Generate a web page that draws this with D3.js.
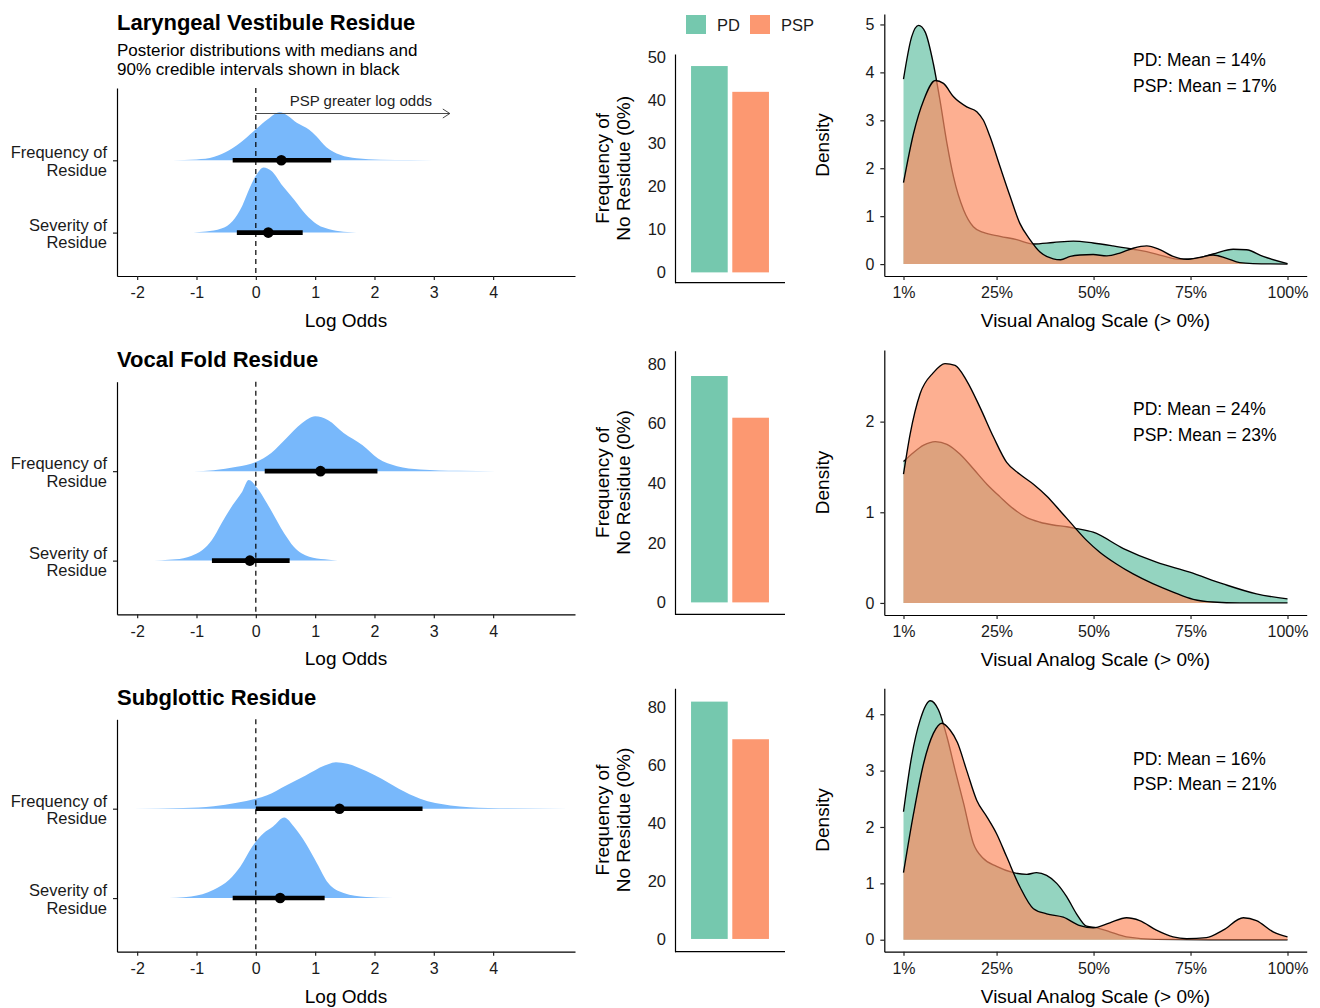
<!DOCTYPE html>
<html><head><meta charset="utf-8">
<script src="https://cdn.jsdelivr.net/npm/d3@7"></script>
<style>
body{margin:0;background:#fff}
svg{display:block}
text{font-family:"Liberation Sans",Arial,Helvetica,sans-serif}
</style>
</head><body>
<svg id="chart" width="1320" height="1008"></svg>
<script>
// ---------------- DATA ----------------
const panelTitles = ["Laryngeal Vestibule Residue", "Vocal Fold Residue", "Subglottic Residue"];
const subtitleLines = ["Posterior distributions with medians and", "90% credible intervals shown in black"];
const measureLines = [["Frequency of", "Residue"], ["Severity of", "Residue"]];
const arrowLabel = "PSP greater log odds";

// posterior medians and 90% credible intervals [frequency, severity]
const postMedian = [[0.43, 0.21], [1.09, -0.10], [1.41, 0.41]];
const postLower  = [[-0.39, -0.32], [0.15, -0.74], [0.00, -0.39]];
const postUpper  = [[1.27, 0.79], [2.05, 0.57], [2.81, 1.16]];

// posterior density shapes [log odds, relative density]
const lvFreqPost = [[-1.4,0],[-1.0,0.8],[-0.7,3.5],[-0.45,10],[-0.2,20.5],[0,31],[0.2,41],[0.4,48],[0.55,44],[0.69,37.5],[0.8,34],[0.9,30.5],[1.02,24],[1.19,13],[1.42,5.5],[1.7,2],[2.1,0.6],[2.6,0.2],[3.4,0]];
const lvSevPost  = [[-1.05,0],[-0.84,1],[-0.58,4],[-0.39,11.7],[-0.23,26.7],[-0.1,45],[0,56.7],[0.13,65],[0.26,61.7],[0.45,46.7],[0.64,33.3],[0.84,18.3],[1.03,8.3],[1.29,2.7],[1.54,0.7],[1.85,0]];
const vfFreqPost = [[-1.05,0],[-0.71,1],[-0.32,4.3],[0,9.3],[0.26,18.3],[0.51,32.7],[0.77,47.7],[1.0,55],[1.22,51],[1.48,38.3],[1.8,26],[2.06,12.7],[2.38,5],[2.77,1.7],[3.41,0.3],[4.05,0]];
const vfSevPost  = [[-1.83,0],[-1.35,1.3],[-1.09,4.7],[-0.9,10.7],[-0.74,20.7],[-0.58,37.3],[-0.39,55.7],[-0.23,69],[-0.12,80.7],[0.03,72.3],[0.19,57.3],[0.48,27.3],[0.64,14],[0.9,4],[1.16,1.3],[1.38,0]];
const sgFreqPost = [[-2.06,0],[-1.22,0.7],[-0.71,2.5],[-0.32,6],[0,10],[0.19,13.5],[0.51,23.3],[0.84,33.3],[1.16,43.3],[1.35,46.7],[1.54,45],[1.86,37.7],[2.12,30],[2.41,20],[2.77,10],[3.28,3.3],[3.92,0.7],[5.27,0]];
const sgSevPost  = [[-1.58,0],[-1.09,1.7],[-0.71,8.3],[-0.45,18.3],[-0.26,31.7],[-0.06,51.7],[0.13,65],[0.29,71.7],[0.48,80.7],[0.64,71.7],[0.84,55],[1.03,35],[1.22,15],[1.48,5],[1.86,1],[2.32,0]];

// frequency of no residue (0%)
const groups = ["PD", "PSP"];
const noResiduePD  = [48, 76, 82];
const noResiduePSP = [42, 62, 69];

// visual analog scale (>0%) means
const vasMeanPD  = [14, 24, 16];
const vasMeanPSP = [17, 23, 21];

// VAS density curves [percent, density]
const lvVasPD  = [[1,3.86],[3.1,4.74],[4.9,4.98],[6.6,4.84],[8.7,4.18],[10.4,3.42],[12.2,2.52],[13.9,1.82],[16.5,1.13],[19,0.78],[21.6,0.66],[25.9,0.58],[30.2,0.51],[34.5,0.42],[39.6,0.45],[44.8,0.48],[49.9,0.44],[55,0.38],[60.2,0.31],[63.7,0.26],[67.9,0.17],[72.2,0.10],[76.5,0.12],[80.8,0.21],[86,0.31],[89.4,0.30],[93.7,0.16],[100,0.01]];
const lvVasPSP = [[1,1.70],[3.6,2.73],[6.2,3.42],[9.2,3.83],[11.3,3.77],[13.9,3.49],[17.3,3.28],[19.9,3.18],[21.6,3.0],[23.3,2.66],[25.9,2.03],[28.5,1.41],[31,0.85],[33.6,0.51],[36.2,0.25],[39.6,0.11],[41.5,0.09],[44,0.16],[46.5,0.19],[49.9,0.20],[53.4,0.17],[56.8,0.23],[60.2,0.33],[63.7,0.38],[67.1,0.30],[70.5,0.16],[74,0.10],[77.4,0.14],[80.8,0.19],[84.3,0.12],[87.7,0.03],[91.1,0.01],[100,0]];
const vfVasPD  = [[1,1.56],[3.6,1.66],[6.2,1.74],[9.2,1.78],[12.2,1.75],[15.6,1.64],[19,1.48],[22.5,1.31],[25.9,1.17],[29.3,1.04],[32.8,0.94],[36.2,0.89],[39.6,0.86],[43.1,0.84],[45.6,0.82],[49.9,0.78],[57.7,0.60],[66.2,0.45],[74.8,0.34],[83.4,0.21],[92,0.10],[100,0.044]];
const vfVasPSP = [[1,1.42],[2.7,1.86],[5.3,2.31],[8.7,2.54],[11.7,2.64],[14.3,2.62],[17.3,2.45],[20.7,2.16],[24.2,1.83],[27.6,1.55],[31,1.42],[34.5,1.31],[37.9,1.18],[41.3,1.02],[44.8,0.85],[48.2,0.69],[51.6,0.56],[55.9,0.43],[60.2,0.32],[65.4,0.21],[70.5,0.12],[75.7,0.04],[80.8,0.01],[87.7,0],[100,0]];
const sgVasPD  = [[1,2.27],[3.1,3.25],[5.3,3.90],[7.9,4.24],[10,4.08],[12.2,3.60],[14.3,3.01],[16.5,2.42],[19,1.71],[21.6,1.44],[25,1.30],[29.3,1.19],[32.8,1.16],[35.3,1.19],[37.9,1.14],[40.5,1.0],[43.1,0.76],[45.6,0.46],[48.2,0.24],[50.8,0.21],[54.2,0.14],[58.5,0.05],[66.2,0.006],[80,0],[100,0]];
const sgVasPSP = [[1,1.19],[3.6,2.24],[6.2,3.13],[8.7,3.66],[10.9,3.84],[13,3.72],[14.9,3.5],[17.3,3.0],[19.9,2.47],[22.5,2.18],[25,1.88],[27.6,1.47],[31,0.94],[34.5,0.55],[37.9,0.46],[42.2,0.40],[46.5,0.25],[49.9,0.21],[54.2,0.30],[58.5,0.39],[61.9,0.34],[66.2,0.17],[70.5,0.05],[74,0.018],[79.1,0.036],[83.4,0.17],[88.6,0.39],[92,0.34],[96.3,0.14],[100,0.05]];

// tick values
const logOddsTicks = [-2, -1, 0, 1, 2, 3, 4];
const vasTicks = [1, 25, 50, 75, 100];
const barTicks = [[0,10,20,30,40,50],[0,20,40,60,80],[0,20,40,60,80]];
const densTicks = [[0,1,2,3,4,5],[0,1,2],[0,1,2,3,4]];

const freqPosts = [lvFreqPost, vfFreqPost, sgFreqPost];
const sevPosts  = [lvSevPost, vfSevPost, sgSevPost];
const vasPD  = [lvVasPD, vfVasPD, sgVasPD];
const vasPSP = [lvVasPSP, vfVasPSP, sgVasPSP];

// ---------------- LAYOUT / STYLE ----------------
const COL_SLAB = "#78b8fb";
const COL_PD = "#66C2A5", COL_PSP = "#FC8D62";
const TXT = "#1a1a1a";
const rows = [
  {top: 88,    bot: 276,   titleY: 30,  barTop: 54,    barBot: 282.7, barDom: [-2.4, 50.8], densTop: 14,    densBot: 276,   densDom: [-0.2485, 5.218], meanY: [66, 92]},
  {top: 381.7, bot: 614.3, titleY: 367, barTop: 350.7, barBot: 614.3, barDom: [-4.0, 84.5], densTop: 350,   densBot: 615,   densDom: [-0.133, 2.79],   meanY: [415, 441]},
  {top: 719.3, bot: 951.7, titleY: 705, barTop: 688.3, barBot: 951.7, barDom: [-4.4, 86.6], densTop: 688.3, densBot: 951.7, densDom: [-0.2125, 4.46],  meanY: [765, 790]}
];
const L = {x0: 117, x1: 575, dom: [-2.34, 5.38]};
const B = {x0: 675, x1: 785};
const D = {x0: 884.3, x1: 1306.7, dom: [-3.95, 104.95]};

const svg = d3.select("#chart");
svg.append("rect").attr("width", 1320).attr("height", 1008).attr("fill", "#fff");

function styleAxis(g, fs) {
  g.selectAll(".domain").attr("stroke", "#000").attr("stroke-width", 1.2);
  g.selectAll(".tick line").attr("stroke", "#222").attr("stroke-width", 1.2);
  g.selectAll(".tick text").attr("fill", TXT).attr("font-size", fs).attr("font-family", null);
}

rows.forEach((r, i) => {
  // ---------- left: posterior halfeye ----------
  const x = d3.scaleLinear().domain(L.dom).range([L.x0, L.x1]);
  const y = d3.scaleLinear().domain([0.4, 3.0]).range([r.bot, r.top]);
  const spacing = y(1) - y(2);
  const posts = [freqPosts[i], sevPosts[i]];
  const cats = [2, 1];
  const pmax = d3.max(posts.flat(), d => d[1]);
  const g = svg.append("g");

  svg.append("text").attr("x", L.x0).attr("y", r.titleY).attr("font-size", 22).attr("font-weight", "bold")
    .attr("fill", "#000").text(panelTitles[i]);
  if (i === 0) {
    subtitleLines.forEach((s, k) => svg.append("text").attr("x", L.x0).attr("y", 56 + k * 19)
      .attr("font-size", 17).attr("fill", "#000").text(s));
  }

  posts.forEach((p, k) => {
    const base = y(cats[k]);
    const area = d3.area().curve(d3.curveMonotoneX)
      .x(d => x(d[0])).y0(base).y1(d => base - d[1] / pmax * 0.9 * spacing);
    g.append("path").datum(p).attr("d", area).attr("fill", COL_SLAB);
  });

  // dashed zero line
  g.append("line").attr("x1", x(0)).attr("x2", x(0)).attr("y1", r.top).attr("y2", r.bot)
    .attr("stroke", "#000").attr("stroke-width", 1.2).attr("stroke-dasharray", "5,4");

  // intervals + medians
  [0, 1].forEach(k => {
    const yy = y(cats[k]);
    g.append("line").attr("x1", x(postLower[i][k])).attr("x2", x(postUpper[i][k]))
      .attr("y1", yy).attr("y2", yy).attr("stroke", "#000").attr("stroke-width", 4.6);
    g.append("circle").attr("cx", x(postMedian[i][k])).attr("cy", yy).attr("r", 5.3).attr("fill", "#000");
  });

  if (i === 0) {
    const ay = 113.5, ax0 = x(0), ax1 = x(3.27);
    g.append("line").attr("x1", ax0).attr("x2", ax1).attr("y1", ay).attr("y2", ay)
      .attr("stroke", "#333").attr("stroke-width", 0.9);
    g.append("path").attr("d", `M${ax1 - 7},${ay - 4.5}L${ax1},${ay}L${ax1 - 7},${ay + 4.5}`)
      .attr("fill", "none").attr("stroke", "#333").attr("stroke-width", 0.9);
    g.append("text").attr("x", (ax0 + ax1) / 2 + 8).attr("y", 106).attr("text-anchor", "middle")
      .attr("font-size", 15).attr("fill", "#222").text(arrowLabel);
  }

  const gx = svg.append("g").attr("transform", `translate(0,${r.bot})`)
    .call(d3.axisBottom(x).tickValues(logOddsTicks).tickFormat(d3.format("d")).tickSize(4).tickPadding(7).tickSizeOuter(0));
  styleAxis(gx, 16);
  gx.selectAll(".tick text").text(d => d < 0 ? "-" + Math.abs(d) : d);
  const gy = svg.append("g").attr("transform", `translate(${L.x0},0)`)
    .call(d3.axisLeft(y).tickValues(cats).tickFormat("").tickSize(4).tickSizeOuter(0));
  styleAxis(gy, 16.5);
  cats.forEach((c, k) => {
    const t = svg.append("text").attr("text-anchor", "end").attr("font-size", 16.5).attr("fill", TXT);
    t.append("tspan").attr("x", 107).attr("y", y(c) - 2).text(measureLines[k][0]);
    t.append("tspan").attr("x", 107).attr("y", y(c) + 15.7).text(measureLines[k][1]);
  });
  svg.append("text").attr("x", (L.x0 + L.x1) / 2).attr("y", r.bot + 51).attr("text-anchor", "middle")
    .attr("font-size", 19).attr("fill", "#000").text("Log Odds");

  // ---------- middle: bars ----------
  const bx = d3.scaleLinear().domain([0.4, 1.6]).range([B.x0, B.x1]);
  const by = d3.scaleLinear().domain(r.barDom).range([r.barBot, r.barTop]);
  const bars = [{grp: "PD", v: noResiduePD[i], pos: 1 - 0.225, col: COL_PD},
                {grp: "PSP", v: noResiduePSP[i], pos: 1 + 0.225, col: COL_PSP}];
  svg.append("g").selectAll("rect").data(bars).join("rect")
    .attr("x", d => bx(d.pos - 0.2)).attr("width", d => bx(d.pos + 0.2) - bx(d.pos - 0.2))
    .attr("y", d => by(d.v)).attr("height", d => by(0) - by(d.v))
    .attr("fill", d => d.col).attr("fill-opacity", 0.9);
  const bgy = svg.append("g").attr("transform", `translate(${B.x0},0)`)
    .call(d3.axisLeft(by).tickValues(barTicks[i]).tickSize(0).tickPadding(9).tickSizeOuter(0));
  styleAxis(bgy, 16.5);
  svg.append("line").attr("x1", B.x0).attr("x2", B.x1).attr("y1", r.barBot).attr("y2", r.barBot)
    .attr("stroke", "#000").attr("stroke-width", 1.2);
  const bym = (r.barTop + r.barBot) / 2;
  svg.append("text").attr("transform", `translate(608.6,${bym}) rotate(-90)`).attr("text-anchor", "middle")
    .attr("font-size", 19).attr("fill", "#000").text("Frequency of");
  svg.append("text").attr("transform", `translate(629.6,${bym}) rotate(-90)`).attr("text-anchor", "middle")
    .attr("font-size", 19).attr("fill", "#000").text("No Residue (0%)");

  // ---------- right: VAS densities ----------
  const dx = d3.scaleLinear().domain(D.dom).range([D.x0, D.x1]);
  const dy = d3.scaleLinear().domain(r.densDom).range([r.densBot, r.densTop]);
  const dg = svg.append("g");
  [[vasPD[i], COL_PD], [vasPSP[i], COL_PSP]].forEach(([data, col]) => {
    const area = d3.area().curve(d3.curveMonotoneX).x(d => dx(d[0])).y0(dy(0)).y1(d => dy(d[1]));
    const line = d3.line().curve(d3.curveMonotoneX).x(d => dx(d[0])).y(d => dy(d[1]));
    dg.append("path").datum(data).attr("d", area).attr("fill", col).attr("fill-opacity", 0.7);
    dg.append("path").datum(data).attr("d", line).attr("fill", "none").attr("stroke", "#000").attr("stroke-width", 1.35);
  });

  const dgx = svg.append("g").attr("transform", `translate(0,${r.densBot})`)
    .call(d3.axisBottom(dx).tickValues(vasTicks).tickFormat(d => d + "%").tickSize(4).tickPadding(7).tickSizeOuter(0));
  styleAxis(dgx, 16);
  const dgy = svg.append("g").attr("transform", `translate(${D.x0},0)`)
    .call(d3.axisLeft(dy).tickValues(densTicks[i]).tickFormat(d3.format("d")).tickSize(4).tickPadding(6).tickSizeOuter(0));
  styleAxis(dgy, 16);
  svg.append("text").attr("x", (D.x0 + D.x1) / 2).attr("y", r.densBot + 51).attr("text-anchor", "middle")
    .attr("font-size", 19).attr("fill", "#000").text("Visual Analog Scale (> 0%)");
  svg.append("text").attr("transform", `translate(829,${(r.densTop + r.densBot) / 2}) rotate(-90)`)
    .attr("text-anchor", "middle").attr("font-size", 19).attr("fill", "#000").text("Density");
  svg.append("text").attr("x", 1133).attr("y", r.meanY[0]).attr("font-size", 17.5).attr("fill", "#000")
    .text(`${groups[0]}: Mean = ${vasMeanPD[i]}%`);
  svg.append("text").attr("x", 1133).attr("y", r.meanY[1]).attr("font-size", 17.5).attr("fill", "#000")
    .text(`${groups[1]}: Mean = ${vasMeanPSP[i]}%`);
});

// legend
const leg = svg.append("g");
[[groups[0], COL_PD, 686, 717], [groups[1], COL_PSP, 750, 781]].forEach(([lab, col, rx, tx]) => {
  leg.append("rect").attr("x", rx).attr("y", 15).attr("width", 20).attr("height", 19)
    .attr("fill", col).attr("fill-opacity", 0.9);
  leg.append("text").attr("x", tx).attr("y", 30.5).attr("font-size", 16.5).attr("fill", TXT).text(lab);
});
</script>
</body></html>
